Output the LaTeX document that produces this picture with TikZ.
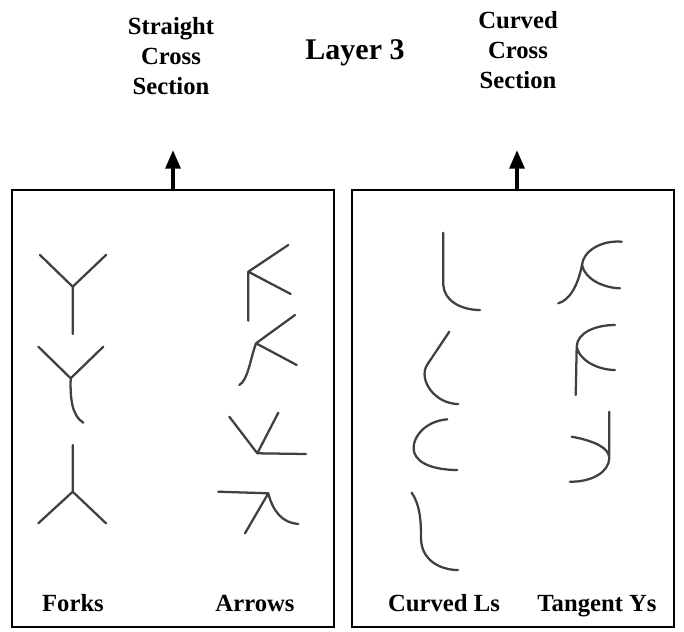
\documentclass[tikz,border=0pt]{standalone}
\usepackage{fontspec}
\setmainfont{Liberation Serif}[BoldFont={Liberation Serif Bold}]
\usetikzlibrary{positioning,arrows.meta}

\begin{document}
\begin{tikzpicture}[x=0.75pt,y=-0.75pt,
    panel/.style={draw,line width=1.5pt,minimum width=241.5pt,minimum height=327.75pt,inner sep=0pt},
    head/.style={font=\bfseries\fontsize{18.5}{22.5}\selectfont,align=center,inner sep=0pt,anchor=north},
    tag/.style={font=\bfseries\fontsize{18.5}{22}\selectfont,inner sep=0pt,anchor=base},
    stroke/.style={draw=black!75,line width=1.7pt,line cap=round,line join=round},
    up/.style={-{Triangle[length=14pt,width=11pt]},line width=3pt}]
    \useasboundingbox (0,0) rectangle (684,631);
    \node [panel] (straightbox) at (173,408.5) {};
    \node [panel] (curvedbox) at (513,408.5) {};
    \node [head] (straight) at (171,17) {Straight\\Cross\\Section};
    \node [head] (curved) at (518,11) {Curved\\Cross\\Section};
    \node [font=\bfseries\fontsize{22.5}{27}\selectfont,inner sep=0pt,anchor=base] (layer) at (355,60) {Layer 3};
    \coordinate (straight-tip) at (173,150);
    \coordinate (curved-tip) at (517,150);
    \draw [up] (straight-tip |- straightbox.north) -- (straight-tip);
    \draw [up] (curved-tip |- curvedbox.north) -- (curved-tip);
    \node [tag] (forks) at (73,611) {Forks};
    \node [tag] (arrows) at (255,611) {Arrows};
    \node [tag] (curvedls) at (444,611) {Curved Ls};
    \node [tag] (tangentys) at (597,611) {Tangent Ys};

    % forks
    \draw [stroke] (40,255) -- (72.7,286.7) -- (106,255) (72.7,286.7) -- (72.7,334);
    \draw [stroke] (38.3,346.7) -- (70.7,378.3) -- (103.3,346.7) (70.7,378.3) .. controls (70,398) and (72,416) .. (83.3,422.7);
    \draw [stroke] (72.7,445) -- (72.7,491.7) (38.3,523.3) -- (72.7,491.7) -- (106,523.3);

    % arrows
    \draw [stroke] (288.3,245) -- (248.3,271.7) -- (290.7,294) (248.3,271.7) -- (248.3,320.7);
    \draw [stroke] (295,315) -- (256,343.3) -- (296.7,365) (256,343.3) .. controls (250,360) and (248,380) .. (239.3,385);
    \draw [stroke] (229.3,416.7) -- (257.3,453.3) -- (306,454) (257.3,453.3) -- (278.3,412.7);
    \draw [stroke] (218.3,491.7) -- (268.3,493.3) -- (245,533.3) (268.3,493.3) .. controls (273,512) and (283,523) .. (298.3,524);

    % curved Ls
    \draw [stroke] (443.3,232.7) -- (443.3,285) .. controls (444,300) and (460,310) .. (480,310);
    \draw [stroke] (449.3,331.7) -- (427,365) .. controls (418,380) and (435,404) .. (458.3,404);
    \draw [stroke] (447.3,419.3) .. controls (425,421) and (411,438) .. (414,452) .. controls (418,466) and (440,470) .. (457.3,470);
    \draw [stroke] (411.7,492.7) .. controls (420,505) and (421,520) .. (421,538) .. controls (421,560) and (440,570) .. (458,570);

    % tangent Ys
    \draw [stroke] (621.7,241.7) .. controls (600,240) and (583,252) .. (582,265) .. controls (585,280) and (605,288) .. (620,288.3);
    \draw [stroke] (582,265) .. controls (578,285) and (570,300) .. (558.3,303.3);
    \draw [stroke] (615,325) .. controls (595,325) and (577,333) .. (576.7,346.7) .. controls (580,362) and (600,370) .. (615,370) (576.7,346.7) -- (575.7,395);
    \draw [stroke] (609.3,411.7) -- (609.3,455) (571.7,436.7) .. controls (595,441) and (609,448) .. (609.3,458) .. controls (609,472) and (592,482) .. (570,481.7);
\end{tikzpicture}
\end{document}
